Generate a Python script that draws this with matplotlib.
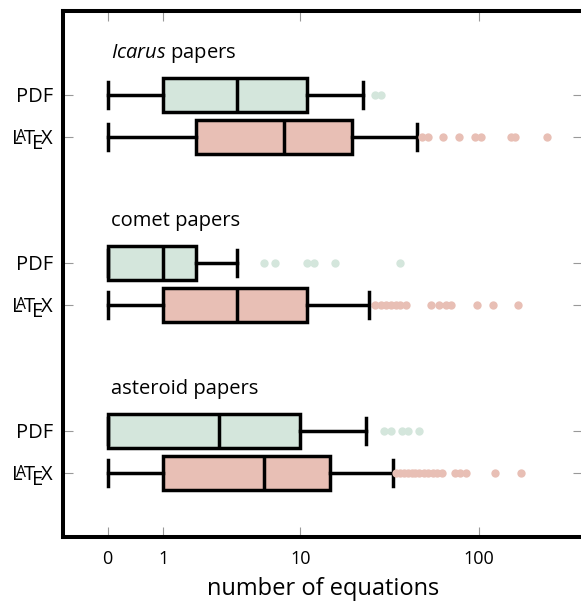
import numpy as np
import matplotlib.pyplot as plt
from matplotlib import transforms

plt.rcParams['font.family'] = ['Open Sans', 'DejaVu Sans']
plt.rcParams['mathtext.fontset'] = 'custom'
plt.rcParams['mathtext.rm'] = 'Open Sans'
plt.rcParams['mathtext.it'] = 'Open Sans:italic'

# data
group_titles = [r'$\mathit{Icarus}$ papers', 'comet papers', 'asteroid papers']

pdf_whislo = [0, 0, 0]
pdf_q1 = [1, 0, 0]
pdf_med = [4, 1, 3]
pdf_q3 = [11, 2, 10]
pdf_whishi = [23, 4, 24]
pdf_fliers = [[27, 29],
              [6, 7, 11, 12, 16, 37],
              [30, 33, 38, 41, 47]]

tex_whislo = [0, 0, 0]
tex_q1 = [2, 1, 1]
tex_med = [8, 4, 6]
tex_q3 = [20, 11, 15]
tex_whishi = [46, 25, 34]
tex_fliers = [[49, 53, 64, 78, 96, 103, 150, 158, 235],
              [27, 29, 31, 33, 35, 37, 40, 55, 61, 66, 71, 98, 120, 165],
              [35, 37, 39, 41, 43, 45, 47, 50, 53, 56, 59, 63, 74, 79, 85, 123, 170]]

xticks = [0, 1, 10, 100]

pdf_color = '#d4e6dc'
tex_color = '#e8bfb5'
fs = 14.5


def fwd(x):
    return np.log10(1 + np.asarray(x, dtype=float))


def inv(y):
    return 10 ** np.asarray(y, dtype=float) - 1


def stats(whislo, q1, med, q3, whishi, fliers):
    return [dict(whislo=a, q1=b, med=c, q3=d, whishi=e, fliers=f)
            for a, b, c, d, e, f in zip(whislo, q1, med, q3, whishi, fliers)]


def latex_logo(ax, y, right_pt, size):
    '''Draws the LaTeX logo with its right edge right_pt points left of the spine'''
    fig = ax.figure
    r = fig.canvas.get_renderer()
    base = ax.get_yaxis_transform()
    # letter, size factor, kern before (em), raise (em)
    parts = [('L', 1.0, 0.0, 0.0),
             ('A', 0.78, -0.30, 0.157),
             ('T', 1.0, -0.12, 0.0),
             ('E', 1.0, -0.14, -0.24),
             ('X', 1.0, -0.10, 0.0)]
    widths = []
    for ch, f, k, rs in parts:
        t = fig.text(0, 0, ch, fontsize=size * f)
        widths.append(t.get_window_extent(r).width * 72 / fig.dpi)
        t.remove()
    total = sum(w + k * size for w, (ch, f, k, rs) in zip(widths, parts))
    x = -right_pt - total
    for w, (ch, f, k, rs) in zip(widths, parts):
        x += k * size
        tr = transforms.offset_copy(base, fig=fig, x=x,
                                    y=rs * size - 0.36 * size, units='points')
        ax.text(0, y, ch, fontsize=size * f, transform=tr,
                ha='left', va='baseline', clip_on=False)
        x += w


fig = plt.figure(figsize=(5.81, 6.02), dpi=100)
ax = fig.add_axes([63 / 581, 1 - 537 / 602, 520 / 581, 526 / 602])
ax.set_xscale('function', functions=(fwd, inv))

pdf_pos = [0, 4, 8]
tex_pos = [1, 5, 9]
common = dict(orientation='horizontal', widths=0.8, capwidths=0.62,
              patch_artist=True, manage_ticks=False,
              whiskerprops=dict(color='black', lw=2.5),
              capprops=dict(color='black', lw=2.5),
              medianprops=dict(color='black', lw=2.5))

ax.bxp(stats(pdf_whislo, pdf_q1, pdf_med, pdf_q3, pdf_whishi, pdf_fliers),
       positions=pdf_pos,
       boxprops=dict(facecolor=pdf_color, edgecolor='black', lw=2.5),
       flierprops=dict(marker='o', markerfacecolor=pdf_color,
                       markeredgecolor='none', markersize=6),
       **common)
ax.bxp(stats(tex_whislo, tex_q1, tex_med, tex_q3, tex_whishi, tex_fliers),
       positions=tex_pos,
       boxprops=dict(facecolor=tex_color, edgecolor='black', lw=2.5),
       flierprops=dict(marker='o', markerfacecolor=tex_color,
                       markeredgecolor='none', markersize=6),
       **common)

ax.set_xlim(inv(-0.2416), inv(2.569))
ax.set_ylim(10.52, -2.0)

ax.set_xticks(xticks)
ax.set_xticklabels([str(v) for v in xticks])
ax.xaxis.set_minor_locator(plt.NullLocator())
ax.set_yticks(pdf_pos + tex_pos)
ax.set_yticklabels([])
ax.tick_params(direction='in', length=7, width=0.8, color='#999999',
               top=True, right=True, labelsize=13, pad=9)

for s in ax.spines.values():
    s.set_linewidth(2.9)

for p, title in zip(pdf_pos, group_titles):
    ax.text(0.092, p - 1.0, title, transform=ax.get_yaxis_transform(),
            fontsize=fs, ha='left', va='center')

ylab = ax.get_yaxis_transform()
for p in pdf_pos:
    tr = transforms.offset_copy(ylab, fig=fig, x=-7.2, y=-0.36 * fs, units='points')
    ax.text(0, p, 'PDF', transform=tr, fontsize=fs, ha='right', va='baseline')
for p in tex_pos:
    latex_logo(ax, p, 7.2, fs)

ax.set_xlabel('number of equations', fontsize=17, labelpad=6.5)

plt.savefig('out.png', dpi=100)
